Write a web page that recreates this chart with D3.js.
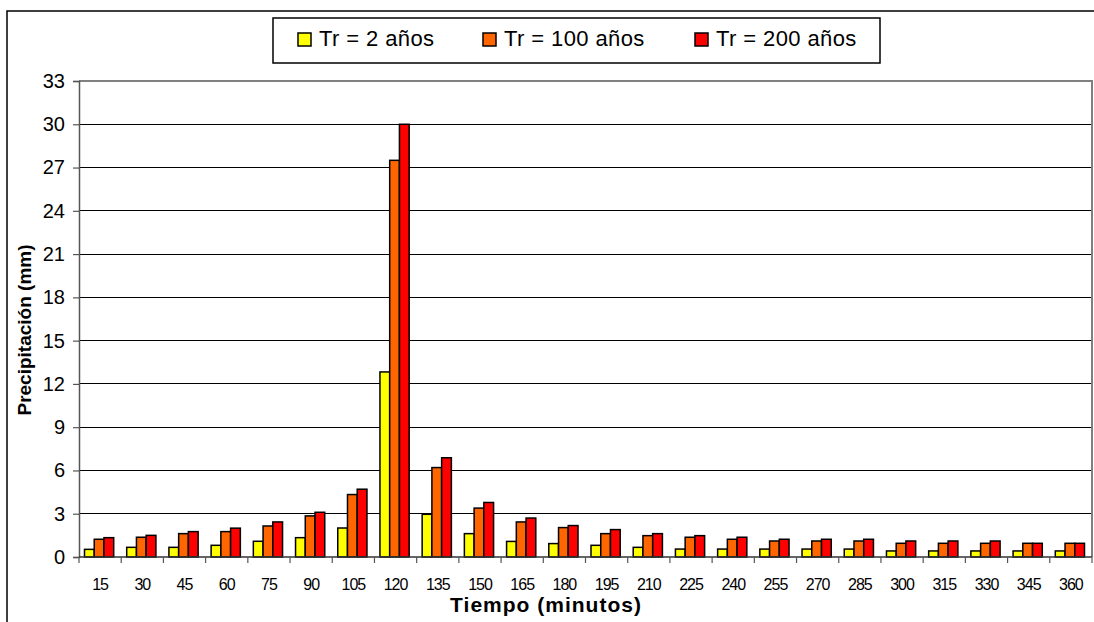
<!DOCTYPE html>
<html>
<head>
<meta charset="utf-8">
<script src="https://cdn.jsdelivr.net/npm/d3@7"></script>
<style>
  html, body { margin: 0; padding: 0; background: #fff; }
  svg { display: block; }
  text { font-family: Arial, "Liberation Sans", sans-serif; fill: #000; }
</style>
</head>
<body>
<svg id="chart" width="1094" height="622"></svg>
<script>
const categories = ["15","30","45","60","75","90","105","120","135","150","165","180","195","210","225","240","255","270","285","300","315","330","345","360"];
const seriesNames = ["Tr = 2 años", "Tr = 100 años", "Tr = 200 años"];
const seriesColors = ["#FFFF00", "#FF6600", "#FF0000"];
const tr2   = [0.53, 0.67, 0.67, 0.81, 1.09, 1.34, 2.01, 12.83, 2.96, 1.62, 1.08, 0.93, 0.81, 0.67, 0.55, 0.55, 0.55, 0.55, 0.55, 0.42, 0.42, 0.42, 0.42, 0.42];
const tr100 = [1.23, 1.37, 1.62, 1.76, 2.15, 2.85, 4.33, 27.5, 6.2, 3.39, 2.43, 2.04, 1.62, 1.48, 1.37, 1.23, 1.11, 1.11, 1.11, 0.95, 0.95, 0.95, 0.95, 0.95];
const tr200 = [1.34, 1.50, 1.76, 2.00, 2.43, 3.10, 4.70, 30.0, 6.88, 3.78, 2.70, 2.18, 1.90, 1.62, 1.48, 1.37, 1.23, 1.23, 1.23, 1.11, 1.11, 1.11, 0.95, 0.95];
const yTicks = [0, 3, 6, 9, 12, 15, 18, 21, 24, 27, 30, 33];
const yTitle = "Precipitación (mm)";
const xTitle = "Tiempo (minutos)";

const series = [tr2, tr100, tr200];
const svg = d3.select("#chart");

const L = 79, R = 1092, T = 81, B = 557;

// outer chart border (top and left visible)
svg.append("path").attr("d", "M7,640V11H1100").attr("fill", "none").attr("stroke", "#000").attr("stroke-width", 1.5);

const x0 = d3.scaleBand().domain(categories).range([L, R]).padding(0);
const x1 = d3.scaleBand().domain(d3.range(series.length)).range([5.5, x0.bandwidth() - 7.5]).padding(0);
const y = d3.scaleLinear().domain([0, 33]).range([B, T]);

// gridlines
svg.append("g").selectAll("line").data(yTicks.filter(d => d > 0 && d < 33)).join("line")
  .attr("x1", L).attr("x2", R).attr("y1", d => y(d)).attr("y2", d => y(d))
  .attr("stroke", "#000").attr("stroke-width", 1).attr("shape-rendering", "crispEdges");

// plot border top/right
svg.append("path").attr("d", `M${L},${y(33)}H${R}V${B}`).attr("fill", "none")
  .attr("stroke", "#808080").attr("stroke-width", 2).attr("shape-rendering", "crispEdges");

// bars
const groups = svg.append("g").selectAll("g").data(categories).join("g")
  .attr("transform", d => `translate(${x0(d)},0)`);
groups.selectAll("rect").data((d, i) => series.map((s, k) => ({k, v: s[i]}))).join("rect")
  .attr("x", d => x1(d.k)).attr("width", x1.bandwidth())
  .attr("y", d => y(d.v)).attr("height", d => y(0) - y(d.v))
  .attr("fill", d => seriesColors[d.k]).attr("stroke", "#000").attr("stroke-width", 1.5);

// y axis
const yAxis = svg.append("g").attr("transform", `translate(${L},0)`)
  .call(d3.axisLeft(y).tickValues(yTicks).tickSize(6).tickPadding(8));
yAxis.select(".domain").attr("stroke", "#555").attr("stroke-width", 1.5);
yAxis.selectAll(".tick line").attr("stroke", "#555").attr("stroke-width", 1.2);
yAxis.selectAll("text").style("font-size", "20px").style("font-family", "Arial, 'Liberation Sans', sans-serif").attr("fill", "#000");

// x axis
svg.append("line").attr("x1", L).attr("x2", R).attr("y1", B).attr("y2", B)
  .attr("stroke", "#333").attr("stroke-width", 1.5);
const tickPositions = categories.map(c => x0(c)).concat([R]);
svg.append("g").selectAll("line").data(tickPositions).join("line")
  .attr("x1", d => d).attr("x2", d => d).attr("y1", B).attr("y2", B + 6)
  .attr("stroke", "#555").attr("stroke-width", 1.2);
svg.append("g").selectAll("text").data(categories).join("text")
  .attr("x", d => x0(d) + x0.bandwidth() / 2).attr("y", 590)
  .attr("text-anchor", "middle").style("font-size", "16px").style("letter-spacing", "-1px")
  .text(d => d);

// axis titles
svg.append("text").attr("x", 546).attr("y", 612).attr("text-anchor", "middle")
  .style("font-size", "21px").style("font-weight", "bold").style("letter-spacing", "1px").text(xTitle);
svg.append("text").attr("transform", "translate(31,330) rotate(-90)").attr("text-anchor", "middle")
  .style("font-size", "19px").style("font-weight", "bold").text(yTitle);

// legend
svg.append("rect").attr("x", 273).attr("y", 18).attr("width", 607).attr("height", 45)
  .attr("fill", "#fff").attr("stroke", "#000").attr("stroke-width", 1.5);
const legendX = [298, 483, 695];
const leg = svg.append("g").selectAll("g").data(seriesNames).join("g")
  .attr("transform", (d, i) => `translate(${legendX[i]},0)`);
leg.append("rect").attr("x", 0).attr("y", 33).attr("width", 13).attr("height", 13)
  .attr("fill", (d, i) => seriesColors[i]).attr("stroke", "#000").attr("stroke-width", 1.5);
leg.append("text").attr("x", 21).attr("y", 45.5).style("font-size", "22px").style("letter-spacing", "0.4px").text(d => d);
</script>
</body>
</html>
